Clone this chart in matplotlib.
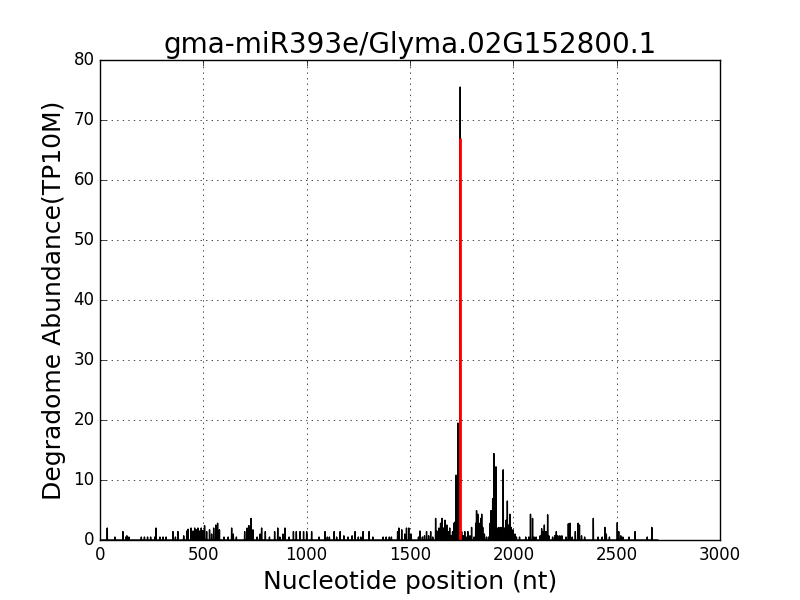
import numpy as np
import matplotlib
matplotlib.use('Agg')
import matplotlib.pyplot as plt

plt.style.use('classic')

title = "gma-miR393e/Glyma.02G152800.1"
tx_length = 2700
cleave_pos = 1744
cleave_val = 67.0

# degradome tags: position (nt) and abundance (TP10M)
positions = [35, 72, 111, 125, 130, 140, 200, 215, 230, 245, 265, 271, 290, 305, 320,
             353, 365, 377, 405, 420, 426, 440, 450, 458, 466, 474, 482, 490, 498, 506,
             516, 530, 540, 550, 560, 569, 578, 600, 620, 637, 645, 660, 700, 712, 720,
             731, 740, 760, 775, 782, 800, 820, 845, 860, 870, 885, 895, 915, 936, 950,
             968, 985, 1000, 1024, 1060, 1089, 1100, 1110, 1133, 1145, 1162, 1180, 1200,
             1220, 1234, 1250, 1262, 1273, 1302, 1320, 1370, 1385, 1400, 1410, 1440, 1446,
             1460, 1475, 1483, 1494, 1505, 1541, 1548, 1560, 1570, 1580, 1590, 1600, 1610,
             1624, 1630, 1640, 1648, 1655, 1662, 1670, 1678, 1685, 1692, 1700, 1706, 1712,
             1718, 1723, 1732, 1743, 1750, 1758, 1765, 1772, 1780, 1790, 1798, 1810, 1818,
             1822, 1828, 1834, 1842, 1847, 1852, 1860, 1870, 1880, 1888, 1892, 1900, 1906,
             1911, 1916, 1922, 1930, 1940, 1951, 1958, 1965, 1971, 1977, 1983, 1990, 1998,
             2008, 2015, 2030, 2060, 2075, 2083, 2093, 2100, 2110, 2130, 2137, 2145, 2150,
             2158, 2166, 2172, 2190, 2200, 2208, 2215, 2225, 2235, 2255, 2266, 2274, 2285,
             2300, 2313, 2320, 2330, 2345, 2387, 2410, 2430, 2443, 2450, 2465, 2503, 2510,
             2520, 2530, 2560, 2589, 2648, 2670]
values = [2.0, 0.5, 1.4, 0.5, 0.7, 0.5, 0.5, 0.5, 0.5, 0.5, 0.5, 2.0, 0.5, 0.5, 0.5,
          1.4, 0.5, 1.4, 0.7, 1.5, 1.8, 2.0, 1.5, 2.0, 1.7, 2.0, 1.5, 2.0, 1.6, 2.4,
          1.4, 1.7, 1.0, 2.0, 2.5, 2.8, 1.7, 0.5, 0.5, 2.0, 1.0, 0.5, 1.4, 2.0, 2.4,
          3.6, 1.7, 0.5, 1.0, 2.0, 1.4, 0.5, 1.4, 2.0, 0.5, 1.0, 2.0, 0.5, 1.4, 1.4,
          1.4, 1.4, 1.4, 1.4, 0.5, 1.4, 0.5, 0.5, 1.4, 0.5, 1.4, 0.7, 0.5,
          0.7, 1.4, 0.5, 0.5, 1.4, 1.4, 0.5, 0.5, 0.5, 0.5, 0.5, 1.4, 2.0,
          1.7, 1.0, 2.0, 2.0, 1.0, 0.5, 1.5, 0.5, 0.7, 1.4, 0.7, 1.4, 0.5,
          3.6, 1.5, 2.0, 2.8, 3.6, 2.0, 3.3, 2.5, 1.4, 2.0, 0.7, 1.4, 2.8,
          3.0, 10.8, 19.5, 75.5, 1.4, 0.7, 1.4, 0.5, 1.4, 0.7, 2.1, 0.5, 2.8,
          4.9, 4.3, 2.8, 3.6, 4.3, 2.1, 1.0, 0.5, 0.5, 2.8, 4.9, 6.9, 14.4,
          2.1, 12.2, 2.0, 2.1, 2.1, 11.7, 2.0, 3.3, 6.5, 2.5, 4.3, 2.1, 1.7,
          1.0, 0.5, 0.5, 0.5, 0.5, 4.3, 3.6, 0.5, 0.5, 0.7, 1.9, 1.4, 2.5,
          1.4, 4.2, 0.7, 0.5, 0.7, 1.4, 0.7, 0.7, 0.7, 0.5, 2.7, 2.8, 0.5,
          1.4, 2.8, 2.5, 0.7, 0.5, 3.6, 0.5, 0.5, 2.1, 1.0, 0.5, 2.9, 1.4,
          0.7, 0.5, 0.5, 1.4, 0.5, 2.1]

abund = np.zeros(tx_length)
for p, v in zip(positions, values):
    abund[p] = v

fig = plt.figure(figsize=(8, 6), dpi=100, facecolor='white')
ax = fig.add_subplot(111)
ax.plot(np.arange(tx_length), abund, 'k-', linewidth=1)
ax.vlines(cleave_pos, 0, cleave_val, color='r', linewidth=2)

ax.set_xlim(0, 3000)
ax.set_ylim(0, 80)
ax.grid(True)
ax.set_title(title, fontsize=20)
ax.set_xlabel("Nucleotide position (nt)", fontsize=18)
ax.set_ylabel("Degradome Abundance(TP10M)", fontsize=18)
ax.tick_params(labelsize=12)

plt.savefig("out.png", dpi=100, facecolor='white')
